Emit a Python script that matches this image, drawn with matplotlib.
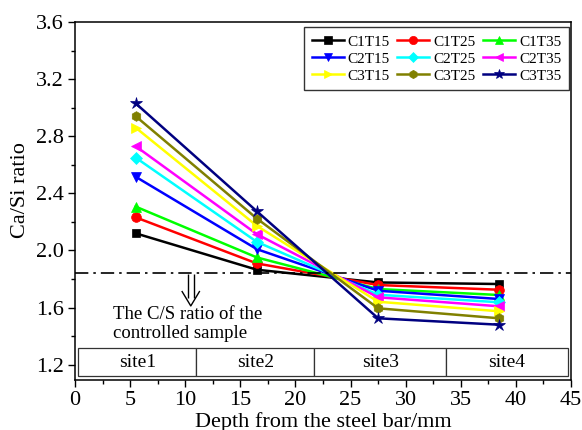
import matplotlib
matplotlib.use("Agg")
import matplotlib.pyplot as plt
from matplotlib.patches import Rectangle
from matplotlib.ticker import MultipleLocator

plt.rcParams['font.family'] = ['Liberation Serif', 'DejaVu Serif']

depth = [5.5, 16.5, 27.5, 38.5]
labels = ["C1T15", "C1T25", "C1T35", "C2T15", "C2T25", "C2T35", "C3T15", "C3T25", "C3T35"]
C1T15 = [2.12, 1.865, 1.776, 1.765]
C1T25 = [2.232, 1.909, 1.758, 1.725]
C1T35 = [2.307, 1.951, 1.730, 1.688]
C2T15 = [2.516, 2.009, 1.718, 1.660]
C2T25 = [2.65, 2.06, 1.690, 1.637]
C2T35 = [2.73, 2.114, 1.672, 1.609]
C3T15 = [2.86, 2.172, 1.641, 1.574]
C3T25 = [2.94, 2.223, 1.595, 1.525]
C3T35 = [3.03, 2.274, 1.525, 1.480]
series = [C1T15, C1T25, C1T35, C2T15, C2T25, C2T35, C3T15, C3T25, C3T35]
colors = ["black", "red", "#00ff00", "blue", "cyan", "magenta", "yellow", "#808000", "#000080"]
markers = ["s", "o", "^", "v", "D", "<", ">", "h", "*"]
msizes = [6, 7, 7, 7, 6, 7, 7, 7, 9]

control_ratio = 1.84
sites = ["site1", "site2", "site3", "site4"]
site_edges = [0.3, 11.0, 21.7, 33.7, 44.7]

fig = plt.figure(figsize=(5.82, 4.30), dpi=100)
ax = fig.add_axes([0.129, 0.1163, 0.852, 0.8326])

handles = {}
for lab, vals, c, m, ms in zip(labels, series, colors, markers, msizes):
    h, = ax.plot(depth, vals, color=c, marker=m, markersize=ms, lw=1.8, label=lab,
                 markeredgewidth=0.5, markeredgecolor=c)
    handles[lab] = h

ax.axhline(control_ratio, color="black", lw=1.2, linestyle=(0, (8, 3, 1.5, 3)))

# site boxes
for i, s in enumerate(sites):
    x0, x1 = site_edges[i], site_edges[i + 1]
    ax.add_patch(Rectangle((x0, 1.12), x1 - x0, 0.195, fill=True, facecolor="white",
                           edgecolor="#333333", lw=0.9, zorder=3))
    ax.text((x0 + x1) / 2, 1.215, s, ha="center", va="center", fontsize=14, zorder=4)

# hollow double arrow below the control line
ax_x, ax_y = 10.5, control_ratio - 0.005
px = 1 / 11.02   # data units per pixel (x)
py = 1 / 143.2   # data units per pixel (y)
kw = dict(color="black", lw=1.0, solid_capstyle="butt", zorder=4)
for sx in (-3.2, 3.2):
    ax.plot([ax_x + sx * px, ax_x + sx * px], [ax_y, ax_y - 24 * py], **kw)
ax.plot([ax_x - 9 * px, ax_x, ax_x + 9 * px], [ax_y - 17 * py, ax_y - 32 * py, ax_y - 17 * py], **kw)

ax.text(3.45, 1.484, "The C/S ratio of the\ncontrolled sample", ha="left", va="center",
        fontsize=13.5, linespacing=1.2)

ax.set_xlim(0, 45)
ax.set_ylim(1.093, 3.6)
ax.xaxis.set_major_locator(MultipleLocator(5))
ax.xaxis.set_minor_locator(MultipleLocator(2.5))
ax.set_yticks([1.2, 1.6, 2.0, 2.4, 2.8, 3.2, 3.6])
ax.set_yticklabels(["1.2", "1.6", "2.0", "2.4", "2.8", "3.2", "3.6"])
ax.yaxis.set_minor_locator(MultipleLocator(0.2))
ax.tick_params(axis="both", which="major", labelsize=16, length=5, width=1, direction="out")
ax.tick_params(axis="both", which="minor", length=3, width=1, direction="out")
ax.tick_params(axis="x", which="major", pad=3)
ax.tick_params(axis="y", which="major", pad=3)
for sp in ax.spines.values():
    sp.set_linewidth(1.1)

ax.set_xlabel("Depth from the steel bar/mm", fontsize=16)
ax.xaxis.set_label_coords(0.5, -0.09)
ax.xaxis.label.set_va("top")
ax.set_ylabel("Ca/Si ratio", fontsize=16)
ax.yaxis.set_label_coords(-0.111, 0.53)
ax.yaxis.label.set_va("center")

order = ["C1T15", "C2T15", "C3T15", "C1T25", "C2T25", "C3T25", "C1T35", "C2T35", "C3T35"]
leg = ax.legend([handles[k] for k in order], order, ncol=3, loc="upper right",
                bbox_to_anchor=(0.996, 0.985), borderaxespad=0, fontsize=11, frameon=True,
                fancybox=False, edgecolor="black", handlelength=2.1, handletextpad=0.25,
                columnspacing=0.5, labelspacing=0.22, borderpad=0.5, markerscale=0.85)
leg.get_frame().set_linewidth(1.0)

fig.savefig("out.png", dpi=100)
